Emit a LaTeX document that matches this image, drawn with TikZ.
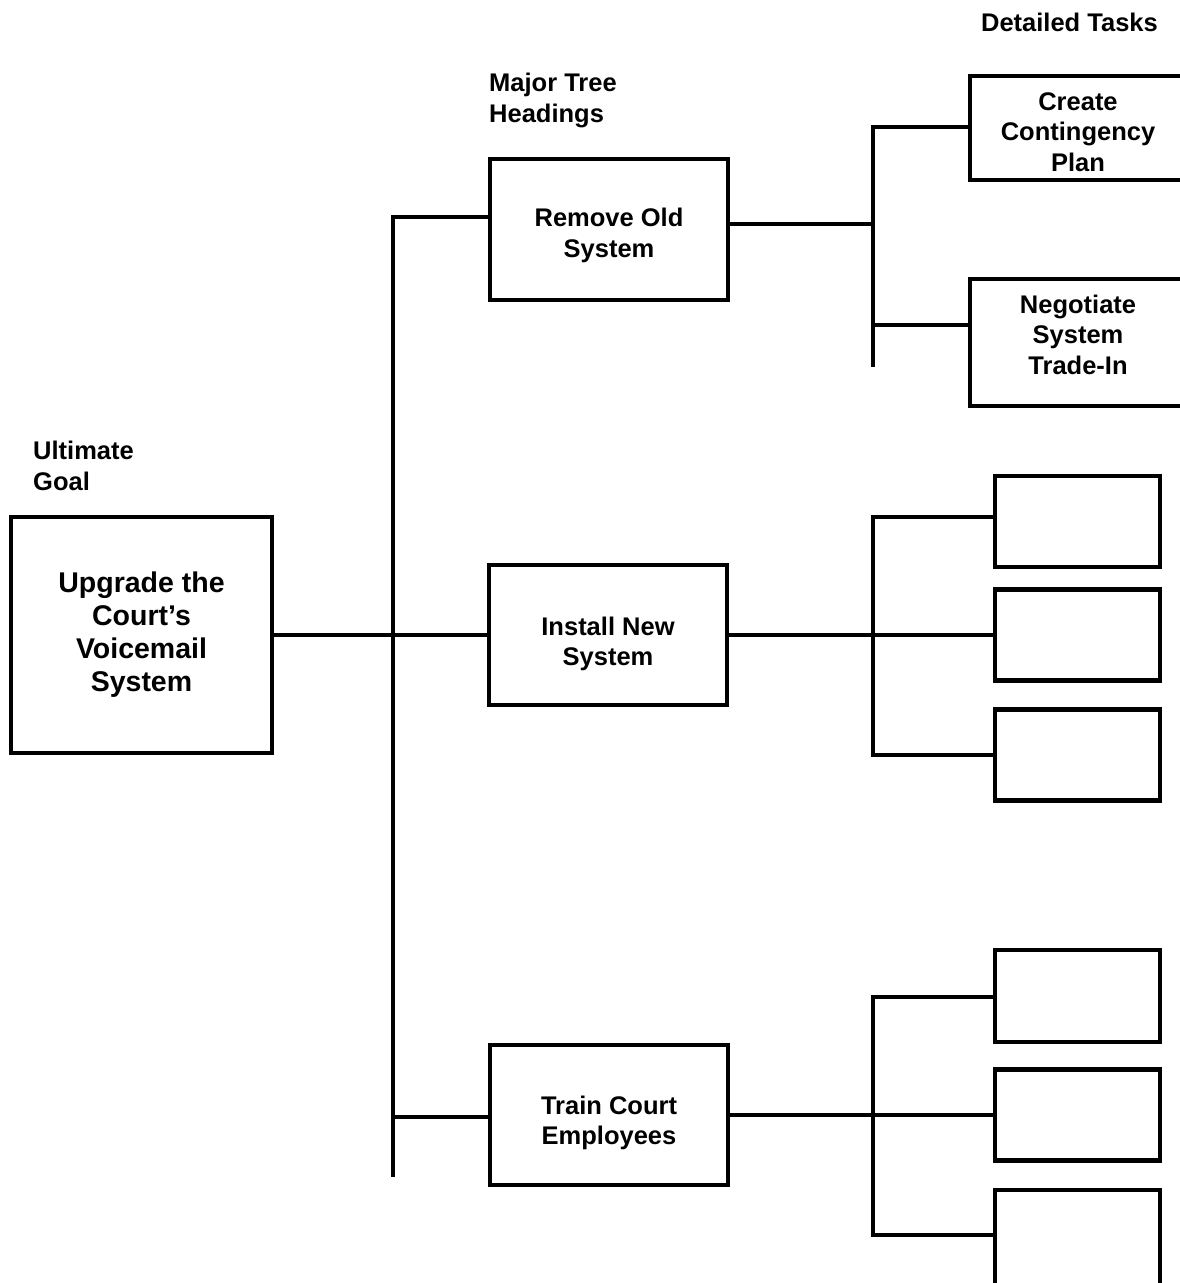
\documentclass[tikz,border=0pt]{standalone}
\usepackage{fontspec}
\setmainfont{Liberation Sans}
\begin{document}
\begin{tikzpicture}[x=1pt,y=-1pt]
\tikzset{
  box/.style={draw, line width=4.5pt, inner sep=0pt},
  boxtext/.style={inner sep=0pt, align=center,
    font=\fontsize{25.5}{30.5}\selectfont\bfseries},
  goaltext/.style={boxtext, font=\fontsize{28.5}{33}\selectfont\bfseries},
  lbl/.style={inner sep=0pt, anchor=north west, align=left,
    font=\fontsize{25.5}{31}\selectfont\bfseries},
  conn/.style={line width=4.5pt}
}
\useasboundingbox (0,0) rectangle (1180,1283);
\clip (0,0) rectangle (1180,1283);

% labels
\node[lbl] (lgoal) at (33,441) {Ultimate\\Goal};
\node[lbl] (lmajor) at (489,73) {Major Tree\\Headings};
\node[lbl, anchor=north east] (ltasks) at (1158,13) {Detailed Tasks};

% ultimate goal
\node[box, minimum width=261pt, minimum height=236pt] (goal) at (141.5,635) {};
\node[goaltext] (goalT) at (goal.center) {Upgrade the\\Court’s\\Voicemail\\System};

% major headings
\node[box, minimum width=238pt, minimum height=141pt] (remove) at (609,229.5) {};
\node[boxtext, yshift=-6pt] (removeT) at (remove.center) {Remove Old\\System};
\node[box, minimum width=238pt, minimum height=140pt] (install) at (608,635) {};
\node[boxtext, yshift=-9pt] (installT) at (install.center) {Install New\\System};
\node[box, minimum width=238pt, minimum height=140pt] (train) at (609,1115) {};
\node[boxtext, yshift=-8pt] (trainT) at (train.center) {Train Court\\Employees};

% detailed tasks
\node[box, minimum width=216pt, minimum height=104pt] (create) at (1078,128) {};
\node[boxtext, yshift=-4pt] (createT) at (create.center) {Create\\Contingency\\Plan};
\node[box, minimum width=216pt, minimum height=127pt] (negotiate) at (1078,342.5) {};
\node[boxtext, yshift=8pt] (negotiateT) at (negotiate.center) {Negotiate\\System\\Trade-In};

\node[box, minimum width=165pt, minimum height=91pt] (m1) at (1077.5,521.5) {};
\node[box, minimum width=165pt, minimum height=91pt] (m2) at (1077.5,635) {};
\node[box, minimum width=165pt, minimum height=91pt] (m3) at (1077.5,755) {};

\node[box, minimum width=165pt, minimum height=92pt] (b1) at (1077.5,996) {};
\node[box, minimum width=165pt, minimum height=91pt] (b2) at (1077.5,1115) {};
\node[box, minimum width=165pt, minimum height=100pt] (b3) at (1077.5,1240) {};

% trunk
\coordinate (tTop) at (393,217);
\coordinate (tBot) at (393,1177);
\coordinate (tTrain) at (393,1117);
\draw[conn] (remove.west |- tTop) -- (tTop) -- (tBot);
\draw[conn] (goal.east) -- (install.west);
\draw[conn] (tTrain) -- (train.west |- tTrain);

% top group
\coordinate (aTop) at (873,127);
\coordinate (aBot) at (873,367);
\coordinate (aMid) at (873,224);
\coordinate (aNeg) at (873,325);
\draw[conn] (create.west |- aTop) -- (aTop) -- (aBot);
\draw[conn] (remove.east |- aMid) -- (aMid);
\draw[conn] (aNeg) -- (negotiate.west |- aNeg);

% middle group
\coordinate (bTop) at (873,517);
\coordinate (bBot) at (873,755);
\draw[conn] (m1.west |- bTop) -- (bTop) -- (bBot) -- (m3.west |- bBot);
\draw[conn] (install.east) -- (m2.west);

% bottom group
\coordinate (cTop) at (873,997);
\coordinate (cBot) at (873,1235);
\draw[conn] (b1.west |- cTop) -- (cTop) -- (cBot) -- (b3.west |- cBot);
\draw[conn] (train.east) -- (b2.west);
\end{tikzpicture}
\end{document}
